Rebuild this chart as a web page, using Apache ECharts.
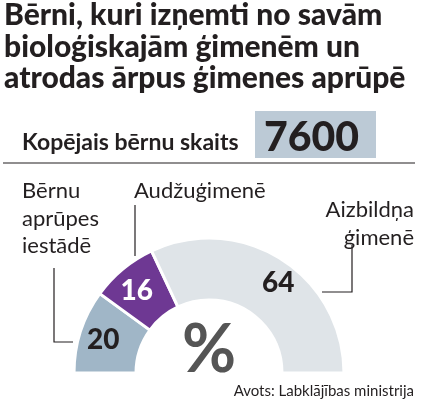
<!DOCTYPE html>
<html>
<head>
<meta charset="utf-8">
<script src="https://cdn.jsdelivr.net/npm/echarts@6/dist/echarts.min.js"></script>
<style>
  html, body { margin: 0; padding: 0; background: #fff; }
  #chart { width: 428px; height: 399px; }
</style>
</head>
<body>
<div id="chart"></div>
<script>
const categories = ['Bērnu aprūpes iestādē', 'Audžuģimenē', 'Aizbildņa ģimenē']
const shares = [20, 16, 64]
const colors = ['#a0b6c7', '#6e3893', '#dfe4e8']
const labelColors = ['#231f20', '#ffffff', '#231f20']
// nudge the inside labels a little (padding shifts the text box)
const labelPads = [[10, 8, 0, 0], [2, 8, 0, 0], [14, 0, 0, 24]]
const totalCount = 7600

const font = 'Lato, "Noto Sans", sans-serif'
const chart = echarts.init(document.getElementById('chart'))

// half donut: the extra (invisible) item fills the lower half
const pieData = shares.map((v, i) => ({
  name: categories[i],
  value: v,
  itemStyle: { color: colors[i] },
  label: { color: labelColors[i], padding: labelPads[i] }
}))
pieData.push({
  name: '',
  value: shares.reduce((a, b) => a + b, 0),
  itemStyle: { color: 'none', borderWidth: 0 },
  label: { show: false },
  emphasis: { disabled: true }
})

const line = (points) => ({
  type: 'polyline',
  shape: { points },
  style: { stroke: '#231f20', lineWidth: 1.2, fill: null }
})
// y is the text baseline; zrender only knows top/middle/bottom
const txt = (x, y, text, size, opts) => ({
  type: 'text',
  x,
  y: y - size * 0.32,
  style: Object.assign({
    text,
    font: size + 'px ' + font,
    fill: '#231f20',
    verticalAlign: 'middle'
  }, opts || {})
})

chart.setOption({
  animation: false,
  series: [{
    type: 'pie',
    center: [209, 373],
    radius: [73, 135],
    startAngle: 180,
    clockwise: true,
    silent: true,
    itemStyle: { borderColor: '#fff', borderWidth: 3 },
    label: {
      position: 'inside',
      formatter: '{c}',
      fontFamily: font,
      fontWeight: 900,
      fontSize: 28
    },
    labelLine: { show: false },
    data: pieData
  }],
  graphic: [
    txt(4, 25, 'Bērni, kuri izņemti no savām', 30, { font: '900 30px ' + font }),
    txt(4, 57, 'bioloģiskajām ģimenēm un', 30, { font: '900 30px ' + font }),
    txt(4, 88, 'atrodas ārpus ģimenes aprūpē', 30, { font: '900 30px ' + font }),
    txt(22, 150, 'Kopējais bērnu skaits', 23, { font: 'bold 23px ' + font }),
    {
      type: 'rect',
      shape: { x: 255, y: 111, width: 121, height: 47 },
      style: { fill: '#bccad6' }
    },
    txt(264, 151, String(totalCount), 41, { font: '900 41px ' + font }),
    {
      type: 'line',
      shape: { x1: 3, y1: 163, x2: 415, y2: 163 },
      style: { stroke: '#231f20', lineWidth: 1.2 }
    },
    txt(22, 198, 'Bērnu', 22),
    txt(22, 226, 'aprūpes', 22),
    txt(22, 253, 'iestādē', 22),
    txt(134, 198, categories[1], 22),
    txt(414, 217, 'Aizbildņa', 22, { align: 'right' }),
    txt(414, 245, 'ģimenē', 22, { align: 'right' }),
    line([[54, 268], [54, 342], [73, 342]]),
    line([[135, 205], [135, 256]]),
    line([[352, 245], [352, 292], [322, 292]]),
    txt(209, 372, '%', 66, {
      font: 'bold 66px ' + font,
      fill: '#555555',
      align: 'center'
    }),
    txt(414, 396, 'Avots: Labklājības ministrija', 15, {
      font: '15px ' + font,
      align: 'right'
    })
  ]
})
</script>
</body>
</html>
